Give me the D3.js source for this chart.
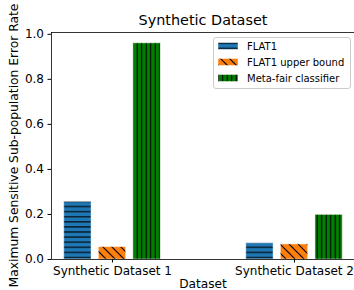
<!DOCTYPE html>
<html><head><meta charset="utf-8">
<script src="https://cdn.jsdelivr.net/npm/d3@7"></script>
<style>body{margin:0;background:#fff}svg{display:block;font-family:"DejaVu Sans",sans-serif}</style>
</head><body><svg id="c" width="354" height="290"></svg>
<script>
const categories = ["Synthetic Dataset 1", "Synthetic Dataset 2"];
const seriesNames = ["FLAT1", "FLAT1 upper bound", "Meta-fair classifier"];
const flat1 = [0.256, 0.072];
const flat1Upper = [0.055, 0.067];
const metaFair = [0.96, 0.198];
const yTicks = [0.0, 0.2, 0.4, 0.6, 0.8, 1.0];

const seriesValues = [flat1, flat1Upper, metaFair];
const colors = ["#1f77b4", "#ff7f0e", "#008000"];
const hatches = ["h", "d", "v"];

const svg = d3.select("#c");
const L = 51, R = 355, T = 32, B = 259;
const x = d3.scaleLinear().domain([-0.335, 1.335]).range([L, R]);
const y = d3.scaleLinear().domain([0, 1.008]).range([B, T]);
const barW = 0.15, pitch = 0.19;

const defs = svg.append("defs");
function makePattern(id, kind, color) {
  let p;
  if (kind === "h") {
    p = defs.append("pattern").attr("id", id).attr("patternUnits", "userSpaceOnUse").attr("width", 10).attr("height", 5.1);
    p.append("rect").attr("width", 10).attr("height", 5.1).attr("fill", color);
    p.append("line").attr("x1", 0).attr("x2", 10).attr("y1", 2.5).attr("y2", 2.5).attr("stroke", "#000").attr("stroke-width", 1.1);
  } else if (kind === "v") {
    p = defs.append("pattern").attr("id", id).attr("patternUnits", "userSpaceOnUse").attr("width", 4.5).attr("height", 10);
    p.append("rect").attr("width", 4.5).attr("height", 10).attr("fill", color);
    p.append("line").attr("y1", 0).attr("y2", 10).attr("x1", 2.2).attr("x2", 2.2).attr("stroke", "#000").attr("stroke-width", 1.1);
  } else {
    const s = 9;
    p = defs.append("pattern").attr("id", id).attr("patternUnits", "userSpaceOnUse").attr("width", s).attr("height", s);
    p.append("rect").attr("width", s).attr("height", s).attr("fill", color);
    p.append("path").attr("d", `M${-s},0 L${s},${2*s} M0,0 L${s},${s} M0,${-s} L${2*s},${s}`)
      .attr("stroke", "#000").attr("stroke-width", 1.2);
  }
}
seriesValues.forEach((s, i) => makePattern("pat" + i, hatches[i], colors[i]));

// bars
seriesValues.forEach((vals, si) => {
  svg.append("g").selectAll("rect").data(vals).join("rect")
    .attr("x", (d, ci) => x(ci + (si - 1) * pitch - barW / 2))
    .attr("width", x(barW) - x(0))
    .attr("y", d => y(d))
    .attr("height", d => y(0) - y(d))
    .attr("fill", `url(#pat${si})`)
    .attr("stroke", "rgba(255,255,255,0.45)")
    .attr("stroke-width", 1);
});

// axes
const yAxis = d3.axisLeft(y).tickValues(yTicks).tickFormat(d3.format(".1f")).tickSize(3.5).tickPadding(3.5);
const gy = svg.append("g").attr("transform", `translate(${L},0)`).call(yAxis);
gy.select(".domain").attr("d", `M0.5,${T}V${B}`).attr("stroke", "#000").attr("stroke-width", 0.8);
gy.selectAll("text").attr("font-size", 12).attr("fill", "#000").attr("font-family", "DejaVu Sans");

const xAxis = d3.axisBottom(x).tickValues([0, 1]).tickFormat(i => categories[i]).tickSize(3.5).tickPadding(3.5);
const gx = svg.append("g").attr("transform", `translate(0,${B})`).call(xAxis);
gx.select(".domain").attr("d", `M${L},0.5H${R}`).attr("stroke", "#000").attr("stroke-width", 0.8);
gx.selectAll("text").attr("font-size", 12).attr("fill", "#000").attr("font-family", "DejaVu Sans");

// top spine
svg.append("line").attr("x1", L).attr("x2", R).attr("y1", T + 0.5).attr("y2", T + 0.5).attr("stroke", "#000").attr("stroke-width", 0.8);

// title and labels
svg.append("text").attr("x", (L + R) / 2).attr("y", 25).attr("text-anchor", "middle").attr("font-size", 14.4).text("Synthetic Dataset");
svg.append("text").attr("x", (L + R) / 2).attr("y", 288).attr("text-anchor", "middle").attr("font-size", 12.2).text("Dataset");
svg.append("text").attr("transform", `translate(17.5,${(T + B) / 2}) rotate(-90)`).attr("text-anchor", "middle").attr("font-size", 12.3)
  .text("Maximum Sensitive Sub-population Error Rate");

// legend
const lg = svg.append("g");
lg.append("rect").attr("x", 213.5).attr("y", 37.5).attr("width", 137).attr("height", 51).attr("rx", 2.5)
  .attr("fill", "rgba(255,255,255,0.8)").attr("stroke", "#cccccc").attr("stroke-width", 1);
seriesNames.forEach((n, i) => {
  const cy = 46 + i * 16;
  lg.append("rect").attr("x", 218).attr("y", cy - 3.5).attr("width", 20).attr("height", 7)
    .attr("fill", `url(#pat${i})`).attr("stroke", "rgba(255,255,255,0.45)").attr("stroke-width", 1);
  lg.append("text").attr("x", 247).attr("y", cy + 3.6).attr("font-size", 10).text(n);
});
</script></body></html>
